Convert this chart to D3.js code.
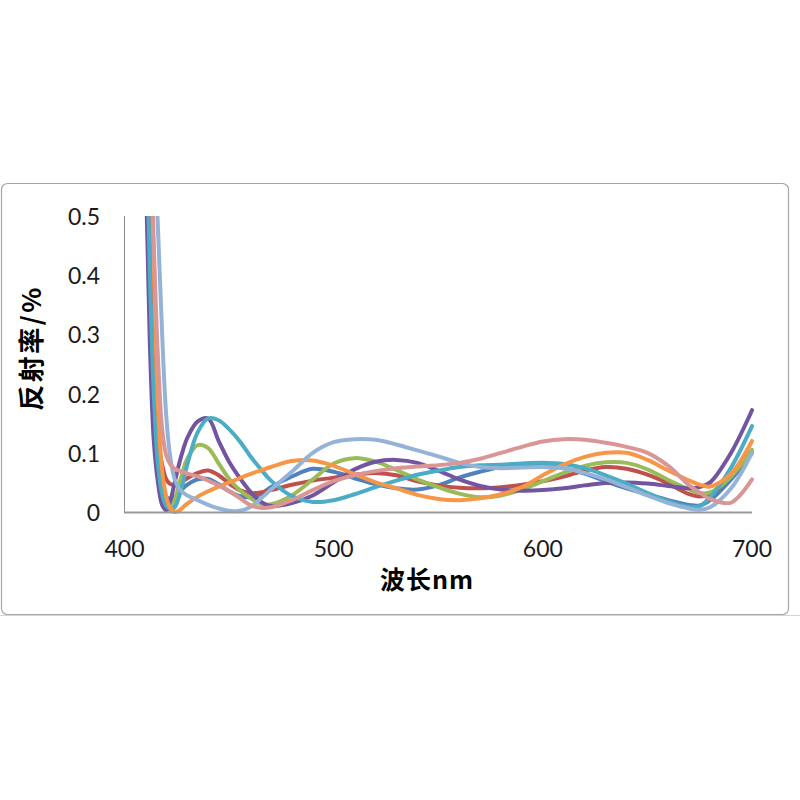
<!DOCTYPE html>
<html>
<head>
<meta charset="utf-8">
<script src="https://cdn.jsdelivr.net/npm/d3@7"></script>
<style>
  html, body { margin: 0; padding: 0; background: #ffffff; }
  svg { display: block; }
</style>
</head>
<body>
<svg id="chart" width="800" height="800"></svg>
<script>
// ---- data ----
const wavelengths = [400, 408, 410, 412, 414, 416, 418, 420, 422, 424, 426, 428, 430, 435, 440, 445, 450, 455, 460, 465, 470, 480, 490, 500, 510, 520, 530, 540, 550, 560, 570, 580, 590, 600, 610, 620, 630, 640, 650, 660, 670, 675, 680, 690, 700];

const seriesBlue      = [4.0, 1.4, 0.8, 0.47, 0.23, 0.10, 0.045, 0.025, 0.022, 0.025, 0.032, 0.04, 0.046, 0.055, 0.056, 0.047, 0.035, 0.027, 0.025, 0.03, 0.042, 0.06, 0.073, 0.068, 0.057, 0.047, 0.04, 0.038, 0.045, 0.058, 0.068, 0.076, 0.079, 0.079, 0.074, 0.065, 0.052, 0.04, 0.03, 0.02, 0.012, 0.011, 0.02, 0.055, 0.10];
const seriesRed       = [4.0, 1.4, 0.8, 0.48, 0.25, 0.12, 0.08, 0.055, 0.047, 0.045, 0.047, 0.052, 0.057, 0.066, 0.07, 0.062, 0.048, 0.037, 0.032, 0.033, 0.037, 0.046, 0.053, 0.058, 0.063, 0.066, 0.062, 0.052, 0.045, 0.041, 0.04, 0.042, 0.046, 0.052, 0.06, 0.07, 0.076, 0.073, 0.063, 0.048, 0.03, 0.026, 0.03, 0.06, 0.10];
const seriesGreen     = [4.0, 1.3, 0.7, 0.38, 0.17, 0.07, 0.025, 0.006, 0.004, 0.02, 0.045, 0.07, 0.09, 0.113, 0.108, 0.082, 0.056, 0.037, 0.024, 0.014, 0.013, 0.028, 0.055, 0.082, 0.091, 0.085, 0.071, 0.055, 0.042, 0.031, 0.025, 0.028, 0.038, 0.052, 0.066, 0.078, 0.084, 0.083, 0.072, 0.054, 0.038, 0.032, 0.033, 0.06, 0.105];
const seriesPurple    = [4.0, 1.2, 0.6, 0.3, 0.12, 0.05, 0.012, 0.003, 0.02, 0.05, 0.08, 0.105, 0.125, 0.153, 0.158, 0.12, 0.085, 0.058, 0.035, 0.018, 0.01, 0.015, 0.028, 0.05, 0.072, 0.085, 0.088, 0.083, 0.07, 0.055, 0.044, 0.038, 0.036, 0.037, 0.04, 0.045, 0.049, 0.05, 0.048, 0.044, 0.04, 0.042, 0.05, 0.10, 0.172];
const seriesTeal      = [4.0, 1.3, 0.75, 0.42, 0.2, 0.08, 0.03, 0.01, 0.005, 0.008, 0.025, 0.05, 0.08, 0.135, 0.158, 0.155, 0.14, 0.12, 0.095, 0.073, 0.053, 0.027, 0.017, 0.02, 0.03, 0.042, 0.053, 0.063, 0.07, 0.076, 0.079, 0.08, 0.082, 0.083, 0.081, 0.074, 0.062, 0.048, 0.032, 0.018, 0.009, 0.01, 0.025, 0.075, 0.145];
const seriesOrange    = [4.0, 1.8, 1.1, 0.72, 0.42, 0.18, 0.07, 0.025, 0.006, 0.0, 0.002, 0.008, 0.014, 0.026, 0.035, 0.043, 0.05, 0.057, 0.064, 0.07, 0.076, 0.086, 0.087, 0.078, 0.064, 0.05, 0.04, 0.029, 0.022, 0.02, 0.023, 0.03, 0.042, 0.062, 0.08, 0.093, 0.10, 0.10, 0.088, 0.07, 0.053, 0.046, 0.043, 0.065, 0.12];
const seriesLightBlue = [4.0, 2.0, 1.3, 0.9, 0.65, 0.48, 0.3, 0.16, 0.09, 0.055, 0.04, 0.033, 0.028, 0.02, 0.012, 0.006, 0.002, 0.002, 0.008, 0.022, 0.038, 0.068, 0.10, 0.118, 0.123, 0.122, 0.114, 0.104, 0.094, 0.083, 0.076, 0.074, 0.075, 0.076, 0.074, 0.066, 0.055, 0.042, 0.028, 0.015, 0.006, 0.004, 0.008, 0.04, 0.10];
const seriesPink      = [4.0, 1.7, 1.0, 0.68, 0.45, 0.26, 0.14, 0.095, 0.08, 0.073, 0.07, 0.068, 0.065, 0.06, 0.053, 0.045, 0.035, 0.024, 0.012, 0.007, 0.008, 0.02, 0.037, 0.052, 0.062, 0.069, 0.074, 0.077, 0.079, 0.083, 0.09, 0.10, 0.11, 0.119, 0.123, 0.122, 0.117, 0.11, 0.10, 0.078, 0.045, 0.033, 0.022, 0.016, 0.055];

const seriesValues = [seriesBlue, seriesRed, seriesGreen, seriesPurple, seriesTeal, seriesOrange, seriesLightBlue, seriesPink];
const seriesColors = ["#4F81BD", "#C0504D", "#9BBB59", "#7254A0", "#4BACC6", "#F79646", "#95B3D7", "#D99694"];

const xTicks = [400, 500, 600, 700];
const yTicks = [0, 0.1, 0.2, 0.3, 0.4, 0.5];
const xTitle = "波长nm";
const yTitle = "反射率/%";

// ---- layout ----
const svg = d3.select("#chart");
const x = d3.scaleLinear().domain([400, 700]).range([124.5, 752]);
const y = d3.scaleLinear().domain([0, 0.5]).range([512, 216]);

// chart frame
svg.append("line").attr("x1", 0).attr("x2", 800).attr("y1", 615.5).attr("y2", 615.5)
  .attr("stroke", "#d4d4d4").attr("stroke-width", 1);
svg.append("rect").attr("x", 1.5).attr("y", 183.5).attr("width", 787).attr("height", 431)
  .attr("rx", 6).attr("ry", 6)
  .attr("fill", "#ffffff").attr("stroke", "#a6a6a6").attr("stroke-width", 1.2);

// clip
svg.append("defs").append("clipPath").attr("id", "plotclip")
  .append("rect").attr("x", 124).attr("y", 216).attr("width", 632).attr("height", 300);

// y axis line
svg.append("line").attr("x1", 124.5).attr("x2", 124.5).attr("y1", 216).attr("y2", 512)
  .attr("stroke", "#8c8c8c").attr("stroke-width", 1);

const fontTick = "Lato, 'Open Sans', sans-serif";

// y tick labels
svg.append("g").selectAll("text").data(yTicks).join("text")
  .attr("x", 100).attr("y", d => y(d))
  .attr("text-anchor", "end").attr("dominant-baseline", "central")
  .attr("font-family", fontTick).attr("font-size", 23).attr("fill", "#1a1a1a")
  .text(d => d === 0 ? "0" : d3.format(".1f")(d));

// x tick labels
svg.append("g").selectAll("text").data(xTicks).join("text")
  .attr("x", d => x(d)).attr("y", 548)
  .attr("text-anchor", "middle").attr("dominant-baseline", "central")
  .attr("font-family", fontTick).attr("font-size", 23).attr("fill", "#1a1a1a")
  .text(d => d);

// series
const line = d3.line()
  .x((d, i) => x(wavelengths[i]))
  .y(d => y(d))
  .curve(d3.curveCatmullRom.alpha(0.5));

const g = svg.append("g").attr("clip-path", "url(#plotclip)");
seriesValues.forEach((vals, k) => {
  g.append("path").datum(vals)
    .attr("d", line)
    .attr("fill", "none")
    .attr("stroke", seriesColors[k])
    .attr("stroke-width", 4)
    .attr("stroke-linejoin", "round")
    .attr("stroke-linecap", "round");
});

// x axis line (on top)
svg.append("line").attr("x1", 124).attr("x2", 752).attr("y1", 512.5).attr("y2", 512.5)
  .attr("stroke", "#9a9a9a").attr("stroke-width", 2);

// axis titles
svg.append("text").attr("x", 427).attr("y", 578)
  .attr("text-anchor", "middle").attr("dominant-baseline", "central")
  .attr("font-family", "'Noto Sans CJK SC', sans-serif").attr("font-weight", "bold")
  .attr("font-size", 25).attr("letter-spacing", 1)
  .attr("fill", "#000")
  .text(xTitle);

svg.append("text")
  .attr("transform", "translate(29,348) rotate(-90)")
  .attr("text-anchor", "middle").attr("dominant-baseline", "central")
  .attr("font-family", "'Noto Sans CJK SC', sans-serif").attr("font-weight", "bold")
  .attr("font-size", 26).attr("letter-spacing", 2.5).attr("fill", "#000")
  .text(yTitle);
</script>
</body>
</html>
